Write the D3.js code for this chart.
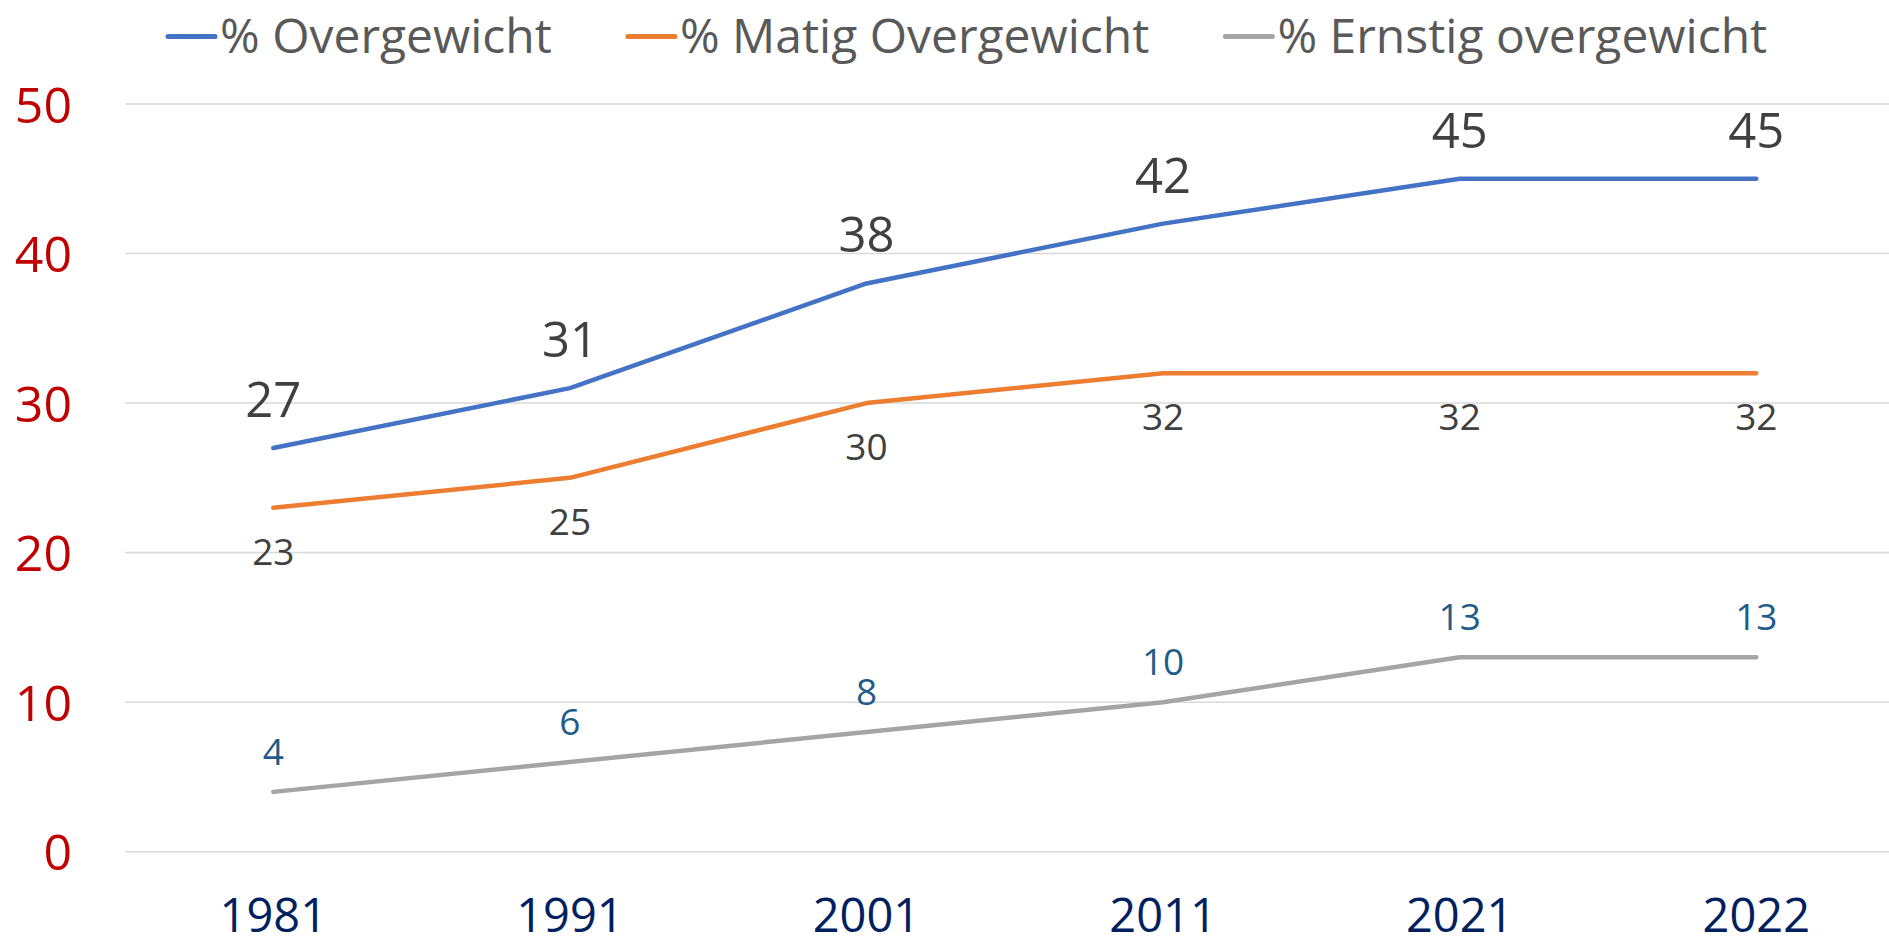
<!DOCTYPE html>
<html>
<head>
<meta charset="utf-8">
<script src="https://cdn.jsdelivr.net/npm/d3@7"></script>
<style>
  html, body { margin: 0; padding: 0; background: #fff; }
  svg { display: block; font-family: "Open Sans", "Noto Sans", sans-serif; }
</style>
</head>
<body>
<div id="viz"></div>
<script>
const years = ['1981', '1991', '2001', '2011', '2021', '2022'];
const overgewicht = [27, 31, 38, 42, 45, 45];
const matig = [23, 25, 30, 32, 32, 32];
const ernstig = [4, 6, 8, 10, 13, 13];
const yTicks = [0, 10, 20, 30, 40, 50];

const series = [
    { name: '% Overgewicht', values: overgewicht, color: '#4472C4', labelColor: '#404040', labelSize: 49, labelDy: -31 },
    { name: '% Matig Overgewicht', values: matig, color: '#ED7D31', labelColor: '#404040', labelSize: 37, labelDy: 57 },
    { name: '% Ernstig overgewicht', values: ernstig, color: '#A5A5A5', labelColor: '#1F5C8A', labelSize: 37, labelDy: -27 },
];

const width = 1889;
const height = 947;
const plotLeft = 125;
const step = 296.6;

const svg = d3
    .select('#viz')
    .append('svg')
    .attr('width', width)
    .attr('height', height);

const xScale = d3.scaleBand()
    .domain(years)
    .range([plotLeft, plotLeft + step * years.length]);
const xMid = (d) => xScale(d) + xScale.bandwidth() / 2;

const yScale = d3.scaleLinear()
    .domain([0, 50])
    .range([851.7, 104]);

// gridlines
svg.append('g')
    .selectAll('line')
    .data(yTicks)
    .join('line')
    .attr('x1', plotLeft)
    .attr('x2', width)
    .attr('y1', (d) => yScale(d))
    .attr('y2', (d) => yScale(d))
    .attr('stroke', '#D9D9D9')
    .attr('stroke-width', 1.5);

// y axis labels
const yAxis = svg.append('g')
    .attr('transform', 'translate(72,0)')
    .call(d3.axisLeft(yScale).tickValues(yTicks).tickSize(0).tickPadding(0));
yAxis.select('.domain').remove();
yAxis.selectAll('text')
    .attr('font-family', '"Open Sans", sans-serif')
    .attr('font-size', 50)
    .attr('fill', '#C00000')
    .attr('dy', '0.36em');

// x axis labels
const xAxis = svg.append('g')
    .attr('transform', 'translate(0,932)')
    .call(d3.axisBottom(xScale).tickSize(0).tickPadding(0));
xAxis.select('.domain').remove();
xAxis.selectAll('text')
    .attr('font-family', '"Open Sans", sans-serif')
    .attr('font-size', 47)
    .attr('fill', '#002060')
    .attr('dy', 0);

const line = d3.line()
    .x((d, i) => xMid(years[i]))
    .y((d) => yScale(d));

series.forEach((s) => {
    svg.append('path')
        .datum(s.values)
        .attr('d', line)
        .attr('fill', 'none')
        .attr('stroke', s.color)
        .attr('stroke-width', 4.5)
        .attr('stroke-linecap', 'round')
        .attr('stroke-linejoin', 'round');

    svg.append('g')
        .selectAll('text')
        .data(s.values)
        .join('text')
        .attr('x', (d, i) => xMid(years[i]))
        .attr('y', (d) => yScale(d) + s.labelDy)
        .attr('text-anchor', 'middle')
        .attr('font-size', s.labelSize)
        .attr('fill', s.labelColor)
        .text((d) => d);
});

// legend
const legend = svg.append('g').attr('id', 'legend');
let lx = 166;
series.forEach((s) => {
    legend.append('line')
        .attr('x1', lx + 2)
        .attr('x2', lx + 49)
        .attr('y1', 36.5)
        .attr('y2', 36.5)
        .attr('stroke', s.color)
        .attr('stroke-width', 5)
        .attr('stroke-linecap', 'round');
    const t = legend.append('text')
        .attr('x', lx + 54)
        .attr('y', 53)
        .attr('font-size', 48)
        .attr('fill', '#595959')
        .text(s.name);
    lx += 54 + t.node().getComputedTextLength() + 74;
});
</script>
</body>
</html>
